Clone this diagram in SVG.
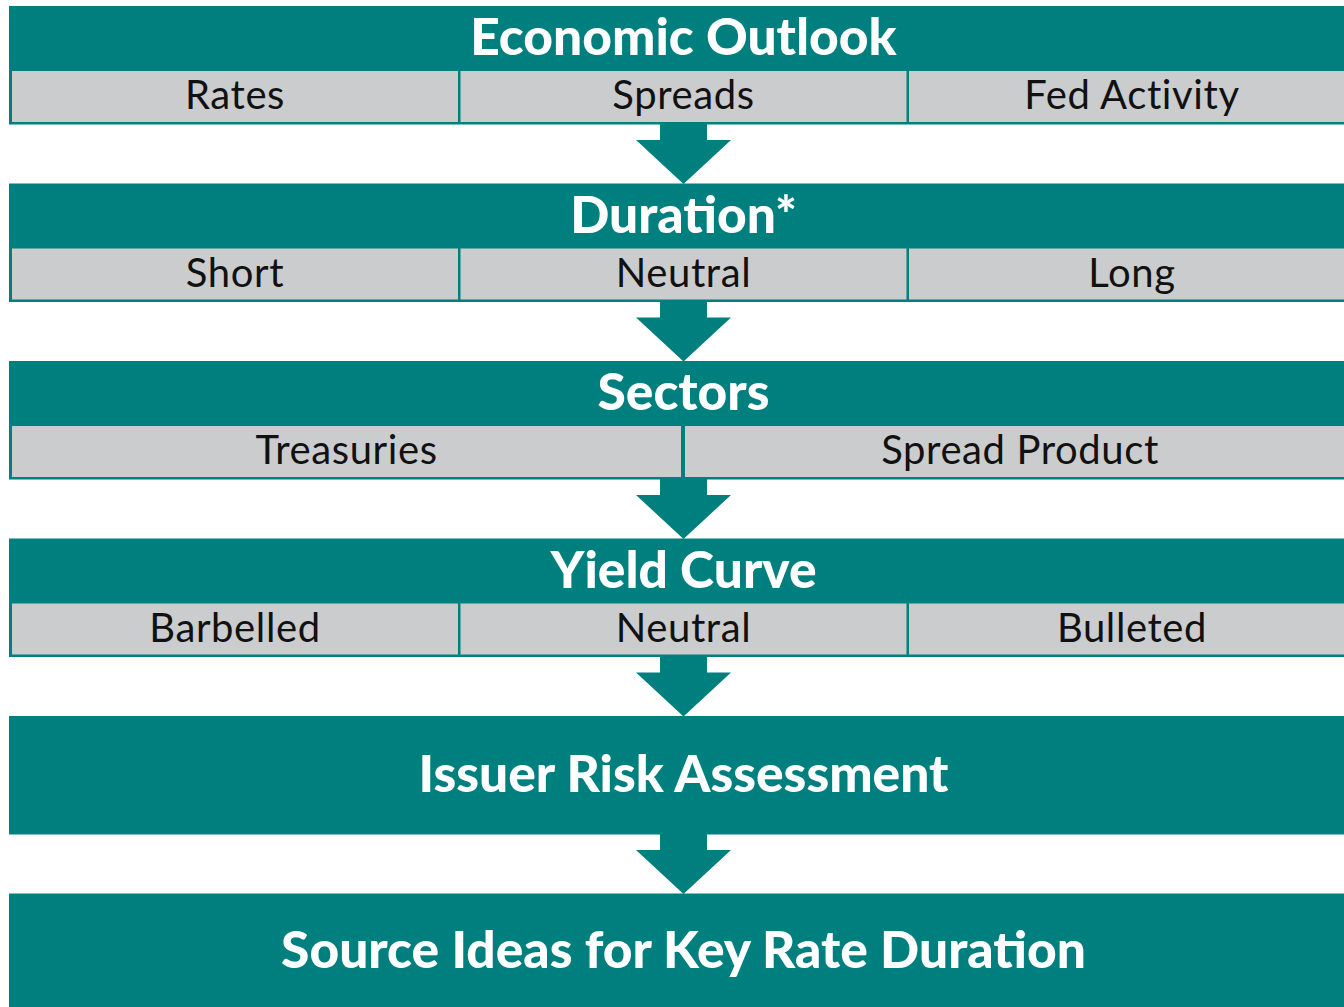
<svg xmlns="http://www.w3.org/2000/svg" width="1344" height="1007" viewBox="0 0 1344 1007">
<style>
.box{fill:#007f7f}
.cell{fill:#cbcccd}
.arrow{fill:#007f7f}
.title{font-family:Lato,"Liberation Sans",sans-serif;font-weight:900;font-size:51.5px;fill:#ffffff;text-anchor:middle}
.lbl{font-family:Lato,"Liberation Sans",sans-serif;font-weight:400;font-size:40px;letter-spacing:0.6px;fill:#111111;text-anchor:middle}
</style>
<rect width="1344" height="1007" fill="#ffffff"/>
<g id="economic-outlook">
<rect class="box" x="9" y="6" width="1350" height="118.5"/>
<text class="title" x="683.5" y="55">Economic Outlook</text>
<rect class="cell" x="12" y="71" width="446" height="51"/>
<rect class="cell" x="460.5" y="71" width="446" height="51"/>
<rect class="cell" x="909" y="71" width="446" height="51"/>
<text class="lbl" x="235" y="109">Rates</text>
<text class="lbl" x="683.5" y="109">Spreads</text>
<text class="lbl" x="1132" y="109">Fed Activity</text>
</g>
<g id="duration">
<rect class="box" x="9" y="183.5" width="1350" height="118.5"/>
<text class="title" x="683.5" y="232.5">Duration*</text>
<rect class="cell" x="12" y="248.5" width="446" height="51"/>
<rect class="cell" x="460.5" y="248.5" width="446" height="51"/>
<rect class="cell" x="909" y="248.5" width="446" height="51"/>
<text class="lbl" x="235" y="286.5">Short</text>
<text class="lbl" x="683.5" y="286.5">Neutral</text>
<text class="lbl" x="1132" y="286.5">Long</text>
</g>
<g id="sectors">
<rect class="box" x="9" y="361" width="1350" height="118.5"/>
<text class="title" x="683.5" y="410">Sectors</text>
<rect class="cell" x="12" y="426" width="669" height="51"/>
<rect class="cell" x="685" y="426" width="670" height="51"/>
<text class="lbl" x="346.5" y="464">Treasuries</text>
<text class="lbl" x="1020" y="464">Spread Product</text>
</g>
<g id="yield-curve">
<rect class="box" x="9" y="538.5" width="1350" height="118.5"/>
<text class="title" x="683.5" y="587.5">Yield Curve</text>
<rect class="cell" x="12" y="603.5" width="446" height="51"/>
<rect class="cell" x="460.5" y="603.5" width="446" height="51"/>
<rect class="cell" x="909" y="603.5" width="446" height="51"/>
<text class="lbl" x="235" y="641.5">Barbelled</text>
<text class="lbl" x="683.5" y="641.5">Neutral</text>
<text class="lbl" x="1132" y="641.5">Bulleted</text>
</g>
<g id="issuer-risk">
<rect class="box" x="9" y="716" width="1350" height="118.5"/>
<text class="title" x="683.5" y="792">Issuer Risk Assessment</text>
</g>
<g id="source-ideas">
<rect class="box" x="9" y="893.5" width="1350" height="120"/>
<text class="title" x="683.5" y="968">Source Ideas for Key Rate Duration</text>
</g>
<g id="connectors">
<polygon class="arrow" points="660,124 707,124 707,140 731,140 683.5,184 636,140 660,140"/>
<polygon class="arrow" points="660,301.5 707,301.5 707,317.5 731,317.5 683.5,361.5 636,317.5 660,317.5"/>
<polygon class="arrow" points="660,479 707,479 707,495 731,495 683.5,539 636,495 660,495"/>
<polygon class="arrow" points="660,656.5 707,656.5 707,672.5 731,672.5 683.5,716.5 636,672.5 660,672.5"/>
<polygon class="arrow" points="660,834 707,834 707,850 731,850 683.5,894 636,850 660,850"/>
</g>
</svg>
